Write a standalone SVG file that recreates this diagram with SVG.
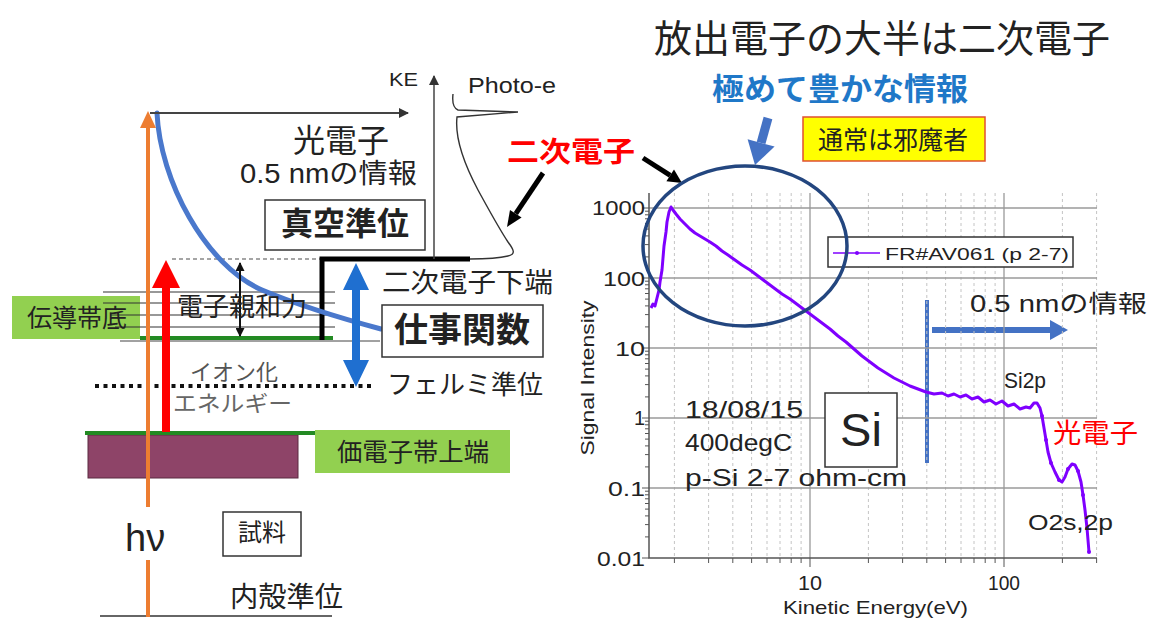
<svg xmlns="http://www.w3.org/2000/svg" width="1151" height="619" viewBox="0 0 1151 619">
<defs>
<style>
.jp{font-family:"Noto Sans CJK JP","Noto Sans",sans-serif;fill:#222}
.la{font-family:"Liberation Sans","Noto Sans CJK JP",sans-serif;fill:#222}
.b{font-weight:bold}
.box{fill:#fff;stroke:#333;stroke-width:1.5}
.grn{fill:#92d050}
.cb{stroke:#333;stroke-width:1.2;fill:none}
.gmaj{stroke:#9a9a9a;stroke-width:1.3;fill:none}
.gmin{stroke:#c4c4c4;stroke-width:1;stroke-dasharray:3 3;fill:none}
.ax{stroke:#555;stroke-width:1.5;fill:none}
</style>
<marker id="ah" viewBox="0 0 10 10" refX="9" refY="5" markerWidth="10" markerHeight="10" markerUnits="userSpaceOnUse" orient="auto-start-reverse"><path d="M0,0L10,5L0,10z" fill="#333"/></marker>
<marker id="ahk" viewBox="0 0 10 10" refX="9" refY="5" markerWidth="10" markerHeight="9" markerUnits="userSpaceOnUse" orient="auto-start-reverse"><path d="M0,0L10,5L0,10z" fill="#111"/></marker>
</defs>
<rect width="1151" height="619" fill="#fff"/>

<!-- ============ LEFT: band diagram ============ -->
<g id="band-diagram">
  <g id="conduction-band">
    <rect class="grn" x="12" y="296" width="128" height="43"/>
    <path class="cb" d="M103,292H335M103,303H335M110,315H335M115,327H335"/>
    <line x1="140" y1="338" x2="333" y2="338" stroke="#238a23" stroke-width="4"/>
    <line x1="120" y1="341" x2="380" y2="341" stroke="#444" stroke-width="1"/>
    <text class="jp" x="27" y="327" font-size="25" textLength="100" lengthAdjust="spacingAndGlyphs">伝導帯底</text>
  </g>
  <g id="vacuum-level">
    <line x1="172" y1="259" x2="322" y2="259" stroke="#888" stroke-width="1.5" stroke-dasharray="4 3"/>
    <rect class="box" x="265" y="200" width="160" height="50"/>
    <text class="jp b" x="345" y="235" font-size="32" text-anchor="middle">真空準位</text>
  </g>
  <g id="secondary-edge">
    <path d="M322,340V259H470" fill="none" stroke="#000" stroke-width="5"/>
    <text class="jp" x="382" y="292" font-size="27" textLength="171" lengthAdjust="spacingAndGlyphs">二次電子下端</text>
  </g>
  <g id="fermi-level">
    <line x1="95" y1="386" x2="372" y2="386" stroke="#111" stroke-width="4" stroke-dasharray="4 4.5"/>
    <text class="jp" x="387" y="394" font-size="26" textLength="156" lengthAdjust="spacingAndGlyphs">フェルミ準位</text>
  </g>
  <g id="valence-band">
    <rect x="88" y="435" width="210" height="43" fill="#8e4468" stroke="#5a2a40" stroke-width="1"/>
    <line x1="85" y1="433" x2="315" y2="433" stroke="#238a23" stroke-width="4"/>
    <rect class="grn" x="315" y="430" width="195" height="43"/>
    <text class="jp" x="337" y="461" font-size="25" textLength="152" lengthAdjust="spacingAndGlyphs">価電子帯上端</text>
  </g>
  <g id="core-level">
    <line x1="100" y1="616" x2="332" y2="616" stroke="#666" stroke-width="2"/>
    <text class="jp" x="230" y="607" font-size="28" textLength="113" lengthAdjust="spacingAndGlyphs">内殻準位</text>
  </g>
  <g id="sample">
    <rect class="box" x="223" y="512" width="78" height="44"/>
    <text class="jp" x="262" y="541" font-size="24" text-anchor="middle">試料</text>
  </g>
  <g id="ke-spectrum">
    <line x1="434" y1="259" x2="434" y2="76" stroke="#444" stroke-width="1.5" marker-end="url(#ah)"/>
    <text class="la" x="389" y="86" font-size="18" textLength="29" lengthAdjust="spacingAndGlyphs">KE</text>
    <path d="M453,94C452,103 453,108 458,110L518,112L457,117C455,135 462,160 478,190C490,212 500,230 508,242C514,250 516,254 508,256C500,258 485,259 470,259" fill="none" stroke="#333" stroke-width="1.4"/>
    <text class="la" x="468" y="93" font-size="22" textLength="88" lengthAdjust="spacingAndGlyphs">Photo-e</text>
  </g>
  <g id="labels-left">
    <text class="jp" x="341" y="152" font-size="32" text-anchor="middle">光電子</text>
    <text class="la" x="240" y="183" font-size="27" textLength="177" lengthAdjust="spacingAndGlyphs">0.5 nmの情報</text>
    <text class="jp" x="507" y="162" font-size="28" font-weight="bold" style="fill:#f00" textLength="128" lengthAdjust="spacingAndGlyphs">二次電子</text>
    <text class="jp" x="190" y="380" font-size="22" style="fill:#555" textLength="88" lengthAdjust="spacingAndGlyphs">イオン化</text>
    <text class="jp" x="173" y="411" font-size="22" style="fill:#666" textLength="119" lengthAdjust="spacingAndGlyphs">エネルギー</text>
    <text class="la" x="125" y="551" font-size="38">hν</text>
  </g>
</g>

<g id="connectors">
  <path d="M157,113C160,180 205,265 262,290C300,306 340,318 381,329" fill="none" stroke="#4a78cc" stroke-width="5" stroke-linecap="round"/>
  <line x1="150" y1="113" x2="408" y2="113" stroke="#444" stroke-width="2" marker-end="url(#ah)"/>
  <path d="M148,617V560M148,507V125" stroke="#ed7d31" stroke-width="4" fill="none"/>
  <polygon points="148,111 156,128 140,128" fill="#ed7d31"/>
  <polygon points="166,260 180,288 170,288 170,432 162,432 162,288 152,288" fill="#f00"/>
  <line x1="240" y1="263" x2="240" y2="336" stroke="#111" stroke-width="2" marker-start="url(#ahk)" marker-end="url(#ahk)"/>
  <polygon points="356,263 369,290 360,290 360,360 369,360 356,387 343,360 352,360 352,290 343,290" fill="#1f6fd0"/>
  <line x1="543" y1="173" x2="515.8" y2="213.7" stroke="#000" stroke-width="5"/>
  <polygon points="507,227 521.6,217.6 510,209.9" fill="#000"/>
  <line x1="643" y1="158" x2="670.2" y2="175.4" stroke="#000" stroke-width="5"/>
  <polygon points="682,183 666.4,181.3 674,169.5" fill="#000"/>
  <line x1="768" y1="118" x2="761.1" y2="142.9" stroke="#4472c4" stroke-width="9"/>
  <polygon points="755,165 774.6,146.6 747.6,139.2" fill="#4472c4"/>
  <line x1="927" y1="300" x2="927" y2="463" stroke="#4472c4" stroke-width="4"/>
  <line x1="932" y1="330" x2="1051" y2="330" stroke="#4472c4" stroke-width="6"/>
  <polygon points="1050,320 1068,330 1050,340" fill="#4472c4"/>
</g>

<g id="work-function">
  <text class="jp" x="177" y="316" font-size="26" textLength="130" lengthAdjust="spacingAndGlyphs">電子親和力</text>
  <rect class="box" x="382" y="305" width="161" height="52"/>
  <text class="jp b" x="462" y="342" font-size="34" text-anchor="middle">仕事関数</text>
</g>

<!-- ============ RIGHT: chart ============ -->
<g id="title">
  <text class="jp" x="882" y="52" font-size="38" text-anchor="middle">放出電子の大半は二次電子</text>
  <text class="jp b" x="712" y="100" font-size="31" style="fill:#1f78c8" textLength="256" lengthAdjust="spacingAndGlyphs">極めて豊かな情報</text>
</g>
<g id="nuisance-note">
  <rect x="803" y="117" width="182" height="44" fill="#ffff00" stroke="#e05030" stroke-width="1.5"/>
  <text class="jp" x="818" y="149" font-size="25" textLength="150" lengthAdjust="spacingAndGlyphs">通常は邪魔者</text>
</g>

<g id="chart">
  <g id="grid">
    <path class="gmin" d="M674.4,193V558M708.6,193V558M732.8,193V558M751.6,193V558M767,193V558M780,193V558M791.2,193V558M801.1,193V558M868.4,193V558M902.6,193V558M926.8,193V558M945.6,193V558M961,193V558M974,193V558M985.2,193V558M995.1,193V558M1062.4,193V558M1096.6,193V558"/>
    <path class="gmaj" d="M810,193V558M1004,193V558M649,208H1097M649,278H1097M649,348H1097M649,418H1097M649,488H1097"/>
  </g>
  <g id="axes">
    <path class="ax" d="M649,193V558H1097"/>
    <path stroke="#555" stroke-width="1" d="M642,208h7M642,278h7M642,348h7M642,418h7M642,488h7M642,558h7
M645,536.9h4M645,524.6h4M645,515.9h4M645,509.1h4M645,503.5h4M645,498.8h4M645,494.8h4M645,491.2h4
M645,466.9h4M645,454.6h4M645,445.9h4M645,439.1h4M645,433.5h4M645,428.8h4M645,424.8h4M645,421.2h4
M645,396.9h4M645,384.6h4M645,375.9h4M645,369.1h4M645,363.5h4M645,358.8h4M645,354.8h4M645,351.2h4
M645,326.9h4M645,314.6h4M645,305.9h4M645,299.1h4M645,293.5h4M645,288.8h4M645,284.8h4M645,281.2h4
M645,256.9h4M645,244.6h4M645,235.9h4M645,229.1h4M645,223.5h4M645,218.8h4M645,214.8h4M645,211.2h4
M810,558v9M1004,558v9M674.4,558v5M708.6,558v5M732.8,558v5M751.6,558v5M767,558v5M780,558v5M791.2,558v5M801.1,558v5M868.4,558v5M902.6,558v5M926.8,558v5M945.6,558v5M961,558v5M974,558v5M985.2,558v5M995.1,558v5M1062.4,558v5M1096.6,558v5"/>
    <g class="la" font-size="20" text-anchor="end">
      <text x="645" y="215" textLength="53" lengthAdjust="spacingAndGlyphs">1000</text>
      <text x="645" y="286" textLength="42" lengthAdjust="spacingAndGlyphs">100</text>
      <text x="645" y="356" textLength="30" lengthAdjust="spacingAndGlyphs">10</text>
      <text x="645" y="425">1</text>
      <text x="645" y="496" textLength="37" lengthAdjust="spacingAndGlyphs">0.1</text>
      <text x="645" y="566" textLength="48" lengthAdjust="spacingAndGlyphs">0.01</text>
    </g>
    <text class="la" x="810" y="590" font-size="20" text-anchor="middle" textLength="24" lengthAdjust="spacingAndGlyphs">10</text>
    <text class="la" x="1004" y="590" font-size="20" text-anchor="middle" textLength="32" lengthAdjust="spacingAndGlyphs">100</text>
    <text class="la" x="783" y="614" font-size="19" textLength="185" lengthAdjust="spacingAndGlyphs">Kinetic Energy(eV)</text>
    <text class="la" transform="translate(594,378) rotate(-90)" x="0" y="0" font-size="18" text-anchor="middle" textLength="155" lengthAdjust="spacingAndGlyphs">Signal Intensity</text>
  </g>
  <g id="spectrum">
    <polyline fill="none" stroke="#7f00ff" stroke-width="3" stroke-linejoin="round" points="651,308 653,304 655,306 657,298 659,290 660,282 662,270 663,258 664,246 666,232 667,222 669,212 671,207 673,210 676,214 680,219 685,224 690,229 695,233 700,236 705,239 710,242 716,246 722,251 728,255 735,260 742,265 750,270 758,276 766,282 774,288 782,294 790,299 798,305 806,311 814,317 822,323 830,329 838,336 846,342 854,349 862,356 870,362 878,368 886,373 894,378 902,382 910,386 918,389 926,392 934,394 942,393 948,396 954,394 960,397 966,395 972,399 978,397 984,402 990,400 996,404 1002,401 1008,406 1014,404 1020,409 1026,407 1030,408 1034,403 1037,403 1040,408 1042,416 1044,428 1046,440 1048,452 1051,463 1055,472 1059,480 1062,482 1065,477 1068,469 1072,464 1075,465 1078,471 1081,482 1083,495 1085,510 1087,528 1089,552"/>
    <g fill="#7f00ff">
      <circle cx="1042" cy="416" r="2"/><circle cx="1046" cy="440" r="2"/><circle cx="1051" cy="463" r="2"/><circle cx="1059" cy="480" r="2"/><circle cx="1068" cy="469" r="2"/><circle cx="1078" cy="471" r="2"/><circle cx="1083" cy="495" r="2"/><circle cx="1087" cy="528" r="2"/><circle cx="1089" cy="552" r="2"/>
    </g>
  </g>
  <g id="legend">
    <rect class="box" x="828" y="237" width="245" height="30"/>
    <line x1="833" y1="253" x2="880" y2="253" stroke="#7f00ff" stroke-width="1.5"/>
    <circle cx="857" cy="253" r="2" fill="#7f00ff"/>
    <text class="la" x="885" y="260" font-size="17" textLength="184" lengthAdjust="spacingAndGlyphs">FR#AV061 (p 2-7)</text>
  </g>
  <ellipse id="secondary-region" cx="745" cy="246" rx="102" ry="80" fill="none" stroke="#23467f" stroke-width="3.5"/>
  <g id="sample-info">
    <text class="la" x="685" y="418" font-size="24" textLength="118" lengthAdjust="spacingAndGlyphs">18/08/15</text>
    <text class="la" x="685" y="451" font-size="24" textLength="107" lengthAdjust="spacingAndGlyphs">400degC</text>
    <text class="la" x="685" y="486" font-size="24" textLength="222" lengthAdjust="spacingAndGlyphs">p-Si 2-7 ohm-cm</text>
    <rect class="box" x="825" y="393" width="72" height="74"/>
    <text class="la" x="861" y="446" font-size="47" text-anchor="middle">Si</text>
  </g>
  <g id="peak-labels">
    <text class="la" x="970" y="312" font-size="24" textLength="177" lengthAdjust="spacingAndGlyphs">0.5 nmの情報</text>
    <text class="la" x="1004" y="388" font-size="22" textLength="42" lengthAdjust="spacingAndGlyphs">Si2p</text>
    <text class="jp" x="1053" y="443" font-size="27" style="fill:#f00" textLength="85" lengthAdjust="spacingAndGlyphs">光電子</text>
    <text class="la" x="1028" y="530" font-size="22" textLength="85" lengthAdjust="spacingAndGlyphs">O2s,2p</text>
  </g>
</g>
</svg>
